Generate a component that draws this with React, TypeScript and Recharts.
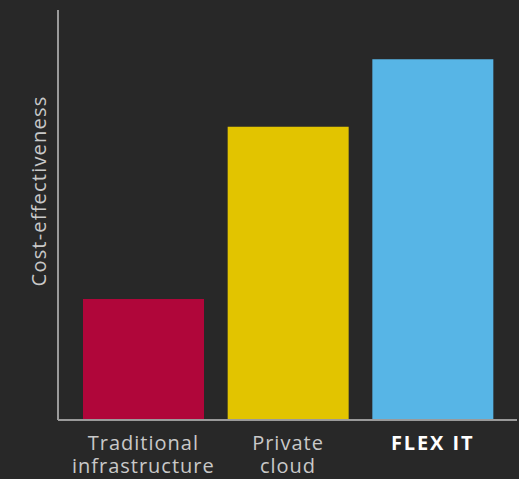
import { BarChart, Bar, XAxis, YAxis, Cell } from 'recharts'

const categories = ['Traditional\ninfrastructure', 'Private\ncloud', 'FLEX IT']
const values = [29.5, 71.5, 88]
const barColors = ['#b0063a', '#e2c400', '#57b5e6']
const yLabel = 'Cost-effectiveness'

const chartData = categories.map((name, i) => ({ name, value: values[i] }))

const FONT = '"Open Sans", sans-serif'

// Multi-line tick; the last category is highlighted
const CategoryTick = ({ x, y, payload }: any) => {
  const lines = String(payload.value).split('\n')
  const strong = payload.value === 'FLEX IT'
  return (
    <text
      x={x}
      y={y}
      textAnchor="middle"
      fontFamily={FONT}
      fontSize={20}
      letterSpacing={strong ? 1.9 : 1}
      fontWeight={strong ? 700 : 400}
      fill={strong ? '#ffffff' : '#c9c9c9'}
    >
      {lines.map((line, i) => (
        <tspan key={i} x={x} dy={i === 0 ? 22 : 23}>
          {line}
        </tspan>
      ))}
    </text>
  )
}

const AxisLabel = () => (
  <text
    x={0}
    y={0}
    transform="translate(46, 191) rotate(-90)"
    textAnchor="middle"
    fontFamily={FONT}
    fontSize={20}
    letterSpacing={1.2}
    fill="#c9c9c9"
  >
    {yLabel}
  </text>
)

export default function App() {
  return (
    <div style={{ position: 'absolute', left: 0, top: 0, width: 519, height: 479, background: '#282828' }}>
      <BarChart width={519} height={479} data={chartData} margin={{ top: 10, right: 2, bottom: 0, left: 0 }}>
        <XAxis
          dataKey="name"
          height={59}
          padding={{ left: 13, right: 12 }}
          axisLine={{ stroke: '#9a9a9a', strokeWidth: 2 }}
          tickLine={false}
          tick={<CategoryTick />}
          interval={0}
        />
        <YAxis
          width={58}
          domain={[0, 100]}
          tick={false}
          tickLine={false}
          axisLine={{ stroke: '#9a9a9a', strokeWidth: 2 }}
          label={<AxisLabel />}
        />
        <Bar dataKey="value" barSize={121} isAnimationActive={false}>
          {chartData.map((d, i) => (
            <Cell key={d.name} fill={barColors[i]} />
          ))}
        </Bar>
      </BarChart>
    </div>
  )
}
